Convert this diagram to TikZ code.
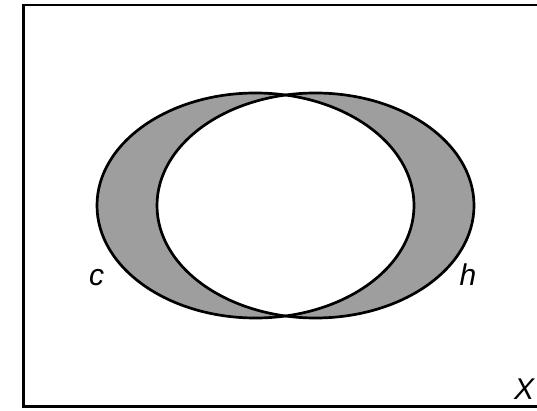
\documentclass[tikz,border=0pt]{standalone}
\usepackage{fontspec}
\setmainfont{Liberation Sans}
\begin{document}
\begin{tikzpicture}[x=1pt,y=-1pt,
  frameline/.style={line width=2.8pt},
  setline/.style={line width=2.7pt},
  setfill/.style={fill=black!38,even odd rule},
  lbl/.style={font=\fontsize{30}{32}\selectfont\itshape,inner sep=0pt}]
\useasboundingbox (0,0) rectangle (537,411);
\coordinate (cc) at (255.5,205.5);
\coordinate (hc) at (315.5,205.5);
\coordinate (tr) at (540,5);
\coordinate (tl) at (23.5,5);
\coordinate (bl) at (23.5,406.5);
\coordinate (br) at (540,406.5);
\draw[frameline] (tr) -- (tl) -- (bl) -- (br);
\fill[setfill] (cc) ellipse [x radius=158.5, y radius=112.5]
               (hc) ellipse [x radius=158.5, y radius=112.5];
\draw[setline] (cc) ellipse [x radius=158.5, y radius=112.5];
\draw[setline] (hc) ellipse [x radius=158.5, y radius=112.5];
\node[lbl] (c) at (96.5,277.5) {c};
\node[lbl] (h) at (468,275) {h};
\node[lbl] (X) at (524,389) {X};
\end{tikzpicture}
\end{document}
